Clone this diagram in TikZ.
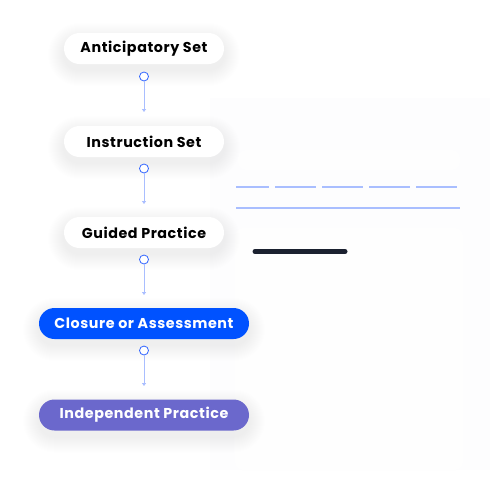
\documentclass[tikz,border=0pt]{standalone}
\usepackage{fontspec}
\setmainfont{Poppins}[LetterSpace=4]
\usetikzlibrary{arrows.meta}
\definecolor{linkblue}{HTML}{A9BEFF}
\definecolor{ringblue}{HTML}{3366FF}
\definecolor{closeblue}{HTML}{0052FF}
\definecolor{indpurple}{HTML}{6B68CC}
\definecolor{darkbar}{HTML}{1B2130}
\definecolor{panelgray}{HTML}{FDFDFE}
\tikzset{
  pill/.style={rounded corners=15.5pt, minimum height=31pt, font=\bfseries\fontsize{14.3}{16}\selectfont, inner xsep=0pt},
  whitepill/.style={pill, fill=white, text=black, minimum width=160pt},
  bluepill/.style={pill, fill=closeblue, text=white, minimum width=210pt},
  purplepill/.style={pill, fill=indpurple, text=white, minimum width=210pt},
  ring/.style={circle, draw=ringblue, fill=white, line width=0.8pt, minimum size=9pt, inner sep=0pt},
  link/.style={draw=linkblue, line width=1pt, -{Triangle[width=4pt,length=3pt]}},
  softshadow/.style={fill=black, fill opacity=0.005, rounded corners=#1},
}
\newcommand{\pillshadow}[3]{% center x, center y, half width
  \foreach \k in {1,...,16}{
    \fill[softshadow=15.5pt+\k pt] ({#1-#3-\k},{#2-15.5-\k+6}) rectangle ({#1+#3+\k},{#2+15.5+\k+6});
  }
}
\begin{document}
\begin{tikzpicture}[x=1pt,y=-1pt]
\useasboundingbox (0,0) rectangle (493,483);
\fill[white] (0,0) rectangle (493,483);
% faint panel
\fill[panelgray] (210,98) rectangle (490,470);
\fill[white!50!panelgray, rounded corners=8pt] (238,150) rectangle (460,170);
\fill[white!50!panelgray, rounded corners=8pt] (235,228) rectangle (463,470);
% lines
\draw[linkblue, line width=2pt, dash pattern=on 41pt off 6pt, dash phase=8pt] (236,187) -- (458,187);
\draw[linkblue, line width=2pt] (236,207.5) -- (460,207.5);
\draw[darkbar, line width=5pt, line cap=round] (255,251.5) -- (345,251.5);
% shadows
\pillshadow{144}{48.5}{80}
\pillshadow{144}{141.5}{80}
\pillshadow{144}{232.5}{80}
\pillshadow{144}{323.5}{105}
\pillshadow{144}{415}{105}
% nodes
\node[whitepill] (a) at (144,48.5) {Anticipatory Set};
\node[whitepill] (b) at (144,141.5) {Instruction Set};
\node[whitepill] (c) at (144,232.5) {Guided Practice};
\node[bluepill] (d) at (144,323.5) {Closure or Assessment};
\node[purplepill] (e) at (144,415) {Independent Practice};
% rings
\node[ring] (ra) at (144,76.5) {};
\node[ring] (rb) at (144,168.5) {};
\node[ring] (rc) at (144,259.5) {};
\node[ring] (rd) at (144,350.5) {};
\coordinate (ta) at (144,112);
\coordinate (tb) at (144,204);
\coordinate (tc) at (144,295);
\coordinate (td) at (144,386);
\draw[link] (ra) -- (ta);
\draw[link] (rb) -- (tb);
\draw[link] (rc) -- (tc);
\draw[link] (rd) -- (td);
\end{tikzpicture}
\end{document}
